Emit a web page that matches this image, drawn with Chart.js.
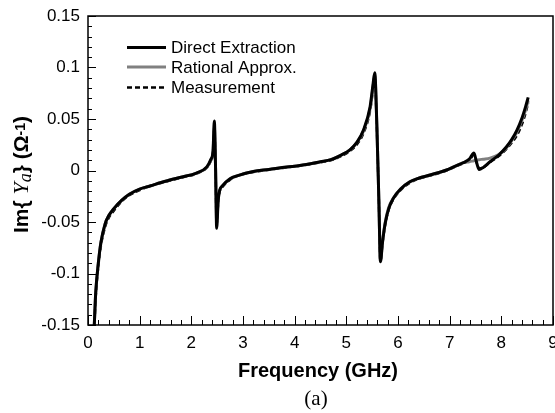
<!DOCTYPE html>
<html>
<head>
<meta charset="utf-8">
<script src="https://cdn.jsdelivr.net/npm/chart.js@4.4.1/dist/chart.umd.min.js"></script>
<style>
  html, body { margin: 0; padding: 0; background: #fff; }
  #wrap { width: 555px; height: 413px; position: relative; }
</style>
</head>
<body>
<div id="wrap"><canvas id="myChart" width="555" height="413"></canvas></div>
<script>
// frequency grid (GHz), shared by the three curves
var freq = [0.12, 0.15, 0.2, 0.25, 0.33, 0.4, 0.5, 0.65, 0.8, 1.0, 1.2, 1.5, 1.8, 2.1, 2.3,
    2.38, 2.42, 2.445, 2.47, 2.49, 2.52, 2.55, 2.6, 2.75, 2.9, 3.2, 3.5, 3.85, 4.1, 4.5,
    4.7, 4.9, 5.07, 5.2, 5.33, 5.46, 5.52, 5.55, 5.59, 5.63, 5.66, 5.7, 5.75, 5.82, 5.91,
    6.05, 6.23, 6.4, 6.62, 6.94, 7.1, 7.26, 7.38, 7.47, 7.52, 7.57, 7.65, 7.78, 7.95, 8.1,
    8.2, 8.3, 8.4, 8.47, 8.52];

var directExtraction = [-0.152, -0.118, -0.09, -0.07, -0.052, -0.044, -0.037, -0.029, -0.023, -0.018, -0.015, -0.0105, -0.0065, -0.0025, 0.0035,
    0.011, 0.019, 0.048, 0.0, -0.056, -0.029, -0.019, -0.015, -0.008, -0.005, -0.001, 0.001, 0.0034, 0.0048, 0.0085,
    0.0105, 0.015, 0.020, 0.027, 0.039, 0.062, 0.085, 0.095, 0.045, -0.03, -0.0885, -0.07, -0.052, -0.037, -0.027,
    -0.018, -0.011, -0.0075, -0.0044, 0.0005, 0.004, 0.0075, 0.011, 0.017, 0.008, 0.001, 0.003, 0.0085, 0.015, 0.023,
    0.030, 0.039, 0.051, 0.062, 0.071];

var rationalApprox = [-0.152, -0.118, -0.09, -0.07, -0.052, -0.044, -0.037, -0.029, -0.023, -0.018, -0.015, -0.0105, -0.0065, -0.0025, 0.003,
    0.010, 0.017, 0.042, 0.0, -0.050, -0.028, -0.019, -0.015, -0.008, -0.005, -0.001, 0.001, 0.0034, 0.0048, 0.0085,
    0.0105, 0.015, 0.020, 0.027, 0.038, 0.060, 0.082, 0.092, 0.045, -0.03, -0.087, -0.069, -0.051, -0.036, -0.027,
    -0.018, -0.011, -0.0075, -0.0044, 0.0005, 0.004, 0.0075, 0.0085, 0.0095, 0.010, 0.0105, 0.011, 0.012, 0.0155, 0.022,
    0.029, 0.037, 0.049, 0.059, 0.068];

var measurement = [-0.155, -0.122, -0.093, -0.073, -0.055, -0.046, -0.039, -0.030, -0.024, -0.019, -0.015, -0.011, -0.007, -0.003, 0.003,
    0.010, 0.018, 0.040, -0.002, -0.052, -0.030, -0.020, -0.016, -0.009, -0.005, -0.0015, 0.0008, 0.003, 0.0045, 0.008,
    0.010, 0.014, 0.019, 0.025, 0.036, 0.058, 0.080, 0.090, 0.043, -0.03, -0.088, -0.070, -0.053, -0.038, -0.028,
    -0.019, -0.012, -0.008, -0.005, 0.0, 0.0035, 0.007, 0.010, 0.015, 0.008, 0.002, 0.003, 0.008, 0.014, 0.021,
    0.027, 0.034, 0.045, 0.056, 0.066];

var xTicks = [0, 1, 2, 3, 4, 5, 6, 7, 8, 9];
var yTicks = [-0.15, -0.1, -0.05, 0, 0.05, 0.1, 0.15];

function pts(ys) {
    return freq.map(function (f, i) { return { x: f, y: ys[i] }; });
}

// box, inward ticks, legend and titles
var decor = {
    id: 'decor',
    afterDatasetsDraw: function (chart) {
        var c = chart.ctx, a = chart.chartArea;
        var xs = chart.scales.x, ys = chart.scales.y;
        c.save();
        c.strokeStyle = '#000';
        c.lineWidth = 1.5;
        c.strokeRect(a.left, a.top, a.right - a.left, a.bottom - a.top);
        c.lineWidth = 1;
        var i, p, major;
        for (i = 0; i <= 45; i++) {
            p = Math.round(xs.getPixelForValue(i * 0.2)) + 0.5;
            major = i % 5 === 0;
            c.beginPath();
            c.moveTo(p, a.bottom);
            c.lineTo(p, a.bottom - (major ? 9 : 5));
            c.stroke();
        }
        for (i = 0; i <= 30; i++) {
            p = Math.round(ys.getPixelForValue(-0.15 + i * 0.01)) + 0.5;
            major = i % 5 === 0;
            c.beginPath();
            c.moveTo(a.left, p);
            c.lineTo(a.left + (major ? 8 : 4), p);
            c.stroke();
        }

        // legend
        var ds = chart.data.datasets;
        var rows = [47.5, 67, 87.5];
        c.font = '17px "Liberation Sans", Arial, sans-serif';
        c.textBaseline = 'middle';
        c.fillStyle = '#000';
        ds.forEach(function (d, k) {
            c.beginPath();
            c.strokeStyle = d.borderColor;
            c.lineWidth = d.borderWidth;
            c.setLineDash(d.borderDash || []);
            c.moveTo(127, rows[k]);
            c.lineTo(166, rows[k]);
            c.stroke();
            c.setLineDash([]);
            c.fillText(d.label, 171, rows[k] + 1);
        });

        // x title
        c.textAlign = 'center';
        c.textBaseline = 'alphabetic';
        c.font = 'bold 20px "Liberation Sans", Arial, sans-serif';
        c.fillText('Frequency (GHz)', 318, 377);
        c.font = '21px "Liberation Serif", "Times New Roman", serif';
        c.fillText('(a)', 316, 405);

        // y title, rotated
        c.translate(28, 233);
        c.rotate(-Math.PI / 2);
        c.textAlign = 'left';
        var parts = [
            ['Im{ ', 'bold 21px "Liberation Sans", Arial, sans-serif', 0],
            ['Y', 'italic 22px "Liberation Serif", serif', 0],
            ['a', 'italic 18px "Liberation Serif", serif', 3],
            ['} (\u03A9', 'bold 21px "Liberation Sans", Arial, sans-serif', 0],
            ['-1', 'bold 14px "Liberation Sans", Arial, sans-serif', -3],
            [')', 'bold 21px "Liberation Sans", Arial, sans-serif', 0]
        ];
        var x = 0;
        parts.forEach(function (t) {
            c.font = t[1];
            c.fillText(t[0], x, t[2]);
            x += c.measureText(t[0]).width;
        });
        c.restore();
    }
};

var ctx = document.getElementById('myChart').getContext('2d');
var myChart = new Chart(ctx, {
    type: 'line',
    data: {
        datasets: [{
            label: 'Direct Extraction',
            data: pts(directExtraction),
            borderColor: '#000',
            borderWidth: 3
        }, {
            label: 'Rational Approx.',
            data: pts(rationalApprox),
            borderColor: 'rgb(128, 128, 128)',
            borderWidth: 3
        }, {
            label: 'Measurement',
            data: pts(measurement),
            borderColor: '#000',
            borderWidth: 2.5,
            borderDash: [5, 3]
        }]
    },
    options: {
        responsive: false,
        animation: false,
        devicePixelRatio: 1,
        layout: { padding: { top: 16, right: 2, left: 0, bottom: 0 } },
        elements: {
            point: { radius: 0 },
            line: { cubicInterpolationMode: 'monotone', fill: false }
        },
        plugins: {
            legend: { display: false },
            tooltip: { enabled: false }
        },
        scales: {
            x: {
                type: 'linear',
                min: 0,
                max: 9,
                grid: { display: false, drawTicks: false },
                border: { display: false },
                afterBuildTicks: function (s) { s.ticks = xTicks.map(function (v) { return { value: v }; }); },
                ticks: {
                    padding: 8,
                    color: '#000',
                    maxRotation: 0,
                    font: { family: '"Liberation Sans", Arial, sans-serif', size: 17 }
                },
                afterFit: function (s) { s.height = 88; s.paddingLeft = 0; s.paddingRight = 0; }
            },
            y: {
                min: -0.15,
                max: 0.15,
                grid: { display: false, drawTicks: false },
                border: { display: false },
                afterBuildTicks: function (s) { s.ticks = yTicks.map(function (v) { return { value: v }; }); },
                ticks: {
                    padding: 8,
                    color: '#000',
                    font: { family: '"Liberation Sans", Arial, sans-serif', size: 17 },
                    callback: function (v) { return String(Math.round(v * 100) / 100); }
                },
                afterFit: function (s) { s.width = 88; s.paddingTop = 0; s.paddingBottom = 0; }
            }
        }
    },
    plugins: [decor]
});
</script>
</body>
</html>
